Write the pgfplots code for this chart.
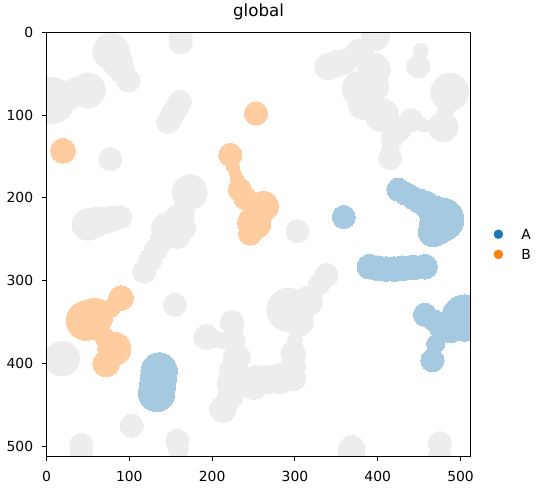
\documentclass[border=0pt]{standalone}
\usepackage{fontspec}
\setmainfont{DejaVu Sans}
\usepackage{pgfplots}
\pgfplotsset{compat=1.18}
\definecolor{grayc}{HTML}{EDEDED}
\definecolor{orangec}{HTML}{FFCC9F}
\definecolor{bluec}{HTML}{A5C9E1}
\definecolor{tabblue}{HTML}{1F77B4}
\definecolor{taborange}{HTML}{FF7F0E}

\pgfplotsset{
  blob/.style 2 args={only marks, mark=*, forget plot, color=#1,
    mark options={draw=#1, fill=#1, line width=0pt}, mark size=#2*0.828pt}
}

\begin{document}
\begin{tikzpicture}
\begin{axis}[
  at={(46.5pt,34.7pt)}, anchor=south west,
  scale only axis, width=424pt, height=424pt,
  xmin=0, xmax=512, ymin=0, ymax=512, y dir=reverse,
  xtick={0,100,...,500}, ytick={0,100,...,500},
  tick pos=left, tick align=outside, major tick length=4.86pt,
  every tick/.style={black, line width=1.1pt},
  axis line style={line width=1.1pt},
  axis on top,
  clip marker paths=true,
  /pgf/number format/assume math mode=true,
  tick label style={font=\fontsize{13.9}{16}\selectfont},
  xticklabel style={yshift=-6pt},
  yticklabel style={xshift=-5pt},
  title=global,
  title style={font=\fontsize{16.7}{20}\selectfont, at={(0.5,1)}, anchor=base, yshift=10.3pt},
  legend style={draw=none, fill=none, at={(axis description cs:1,0.5)}, anchor=west,
    xshift=23pt, inner sep=0pt, font=\fontsize{13.9}{16}\selectfont, row sep=10pt,
    nodes={inner sep=0pt, text depth=0pt, anchor=west}},
  legend cell align=left,
  legend image code/.code={\path[draw=none,fill=none] (-4.5pt,-4.5pt) rectangle (23pt,4.5pt); \fill[#1] (0pt,0pt) circle (4.5pt);},
]
% ---------- gray (other cells) ----------
\addplot[blob={grayc}{8}] coordinates {(455,112)};
\addplot[blob={grayc}{9}] coordinates {(452,22) (300,371)};
\addplot[blob={grayc}{10}] coordinates {(415,140) (482,94) (213,372) (160,512)};
\addplot[blob={grayc}{11}] coordinates {(226,361) (203,370)};
\addplot[blob={grayc}{12}] coordinates {(228,372) (159,503)};
\addplot[blob={grayc}{13}] coordinates {(166,213) (417,128) (329,304)};
\addplot[blob={grayc}{14}] coordinates {(99,58) (162,0) (162,6) (162,12) (161,84) (157.5,90) (154,96) (150.5,102) (147,108) (77,153) (89,223) (132,262) (125,275) (118,289) (440,106) (415,152) (449,41) (303,240) (338,293) (224,350) (217,448) (155,329) (103,475) (42,498) (42,512) (158,493) (475,496) (475,512)};
\addplot[blob={grayc}{15}] coordinates {(92,47) (80,225) (165,236) (158,246) (140,250) (360,35) (425,117) (298,388) (298,403) (298,418) (193,368) (222,440)};
\addplot[blob={grayc}{16}] coordinates {(70,227) (340,41.5) (230,392) (213,455) (368.5,503) (368.5,512) (350,38)};
\addplot[blob={grayc}{17}] coordinates {(28,76) (397,5) (378,25) (382,88) (305,350) (268,419) (226,408)};
\addplot[blob={grayc}{18}] coordinates {(86,36) (38,72) (60,229) (160,226) (145,236) (395,65) (479,114) (315,325) (282,418) (254,420) (250,425) (239,422) (224,424)};
\addplot[blob={grayc}{19}] coordinates {(50,232)};
\addplot[blob={grayc}{20}] coordinates {(395,45) (405,100) (459,-3)};
\addplot[blob={grayc}{21}] coordinates {(50,70) (173,193) (378,68) (19,394)};
\addplot[blob={grayc}{22}] coordinates {(78,23)};
\addplot[blob={grayc}{23}] coordinates {(487,72)};
\addplot[blob={grayc}{26}] coordinates {(292,335)};
\addplot[blob={grayc}{28}] coordinates {(6,82)};
% ---------- orange (B) ----------
\addplot[blob={orangec}{7}] coordinates {(228,170)};
\addplot[blob={orangec}{8}] coordinates {(225,162) (230,177)};
\addplot[blob={orangec}{11}] coordinates {(78,333)};
\addplot[blob={orangec}{12}] coordinates {(70,368)};
\addplot[blob={orangec}{14}] coordinates {(253,98) (222,148) (233.5,190) (240,200) (246,243)};
\addplot[blob={orangec}{15}] coordinates {(20,143) (90,321)};
\addplot[blob={orangec}{16}] coordinates {(72,400)};
\addplot[blob={orangec}{18}] coordinates {(262,210)};
\addplot[blob={orangec}{20}] coordinates {(251,230) (82,382)};
\addplot[blob={orangec}{22}] coordinates {(58,343)};
\addplot[blob={orangec}{24}] coordinates {(48,348)};
% ---------- blue (A) ----------
\addplot[blob={bluec}{11}] coordinates {(470,376)};
\addplot[blob={bluec}{12}] coordinates {(475,358)};
\addplot[blob={bluec}{13}] coordinates {(468,348)};
\addplot[blob={bluec}{14}] coordinates {(425,190) (434,195) (443,200) (359,223) (457,341) (466,396)};
\addplot[blob={bluec}{15}] coordinates {(451,204) (390,283) (400,285) (410,286) (420,286) (430,285) (443,284) (457,283) (488,360)};
\addplot[blob={bluec}{16}] coordinates {(459,208)};
\addplot[blob={bluec}{18}] coordinates {(467,241)};
\addplot[blob={bluec}{20}] coordinates {(470,218)};
\addplot[blob={bluec}{22}] coordinates {(136,409) (135,418) (134,427) (133,436) (472,234)};
\addplot[blob={bluec}{26}] coordinates {(478,226)};
\addplot[blob={bluec}{28}] coordinates {(505,345)};
\addlegendimage{tabblue}
\addlegendentry{A}
\addlegendimage{taborange}
\addlegendentry{B}
\end{axis}
\pgfresetboundingbox
\useasboundingbox (0,0) rectangle (548pt,491pt);
\end{tikzpicture}
\end{document}
